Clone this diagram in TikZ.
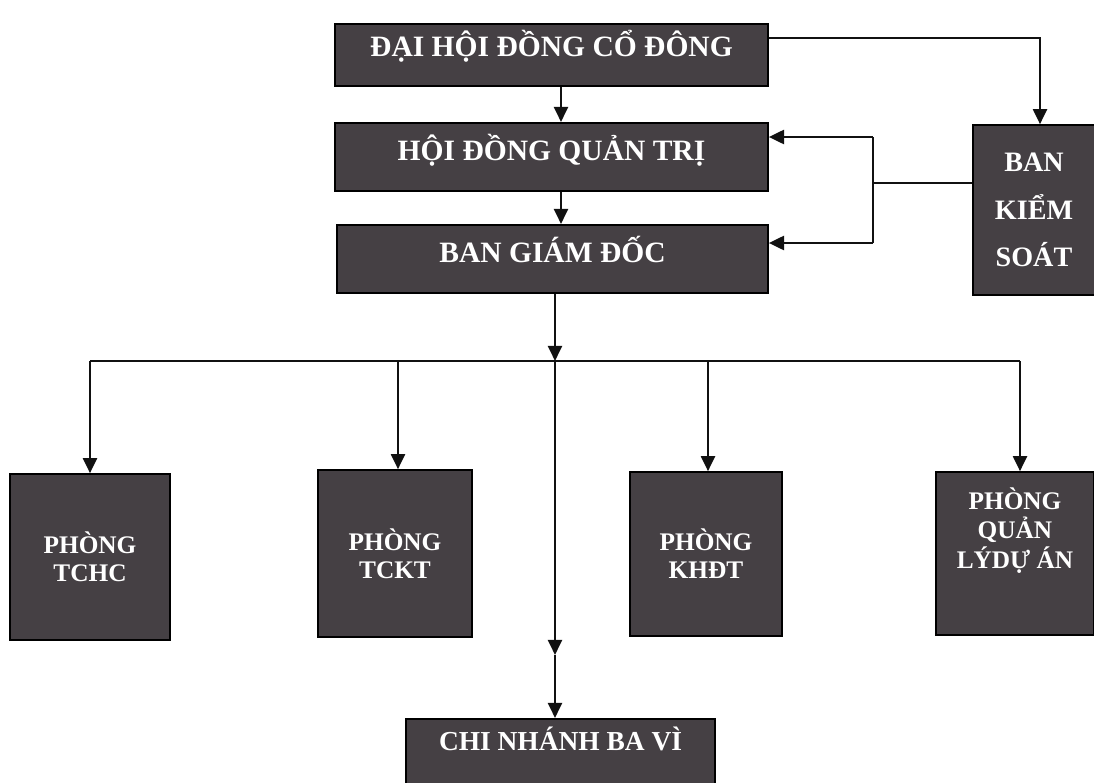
\documentclass[tikz,border=0pt]{standalone}
\usepackage{fontspec}
\setmainfont{Liberation Serif}
\usetikzlibrary{arrows.meta, positioning, calc}
\definecolor{cbox}{HTML}{454044}
\definecolor{cline}{HTML}{111111}
\tikzset{
  every picture/.style={line width=1.8pt},
  box/.style={draw=black, fill=cbox, text=white, align=center, inner sep=0pt, line width=1.1pt},
  bigtext/.style={font=\bfseries\fontsize{21}{24}\selectfont},
  smalltext/.style={font=\bfseries\fontsize{18}{20}\selectfont},
  arrow/.style={-{Triangle[length=3.8mm, width=3.5mm]}, draw=cline},
  link/.style={draw=cline},
}

\begin{document}
\begin{tikzpicture}[x=0.025cm, y=-0.025cm]
  \useasboundingbox (0,0) rectangle (1094,783);
  % upper levels
  \node[box, bigtext, minimum width=10.825cm, text height=0.825cm, text depth=0.725cm, anchor=north] (dh) at (551.5,23) {ĐẠI HỘI ĐỒNG CỔ ĐÔNG};
  \node[box, bigtext, minimum width=10.825cm, text height=0.95cm, text depth=0.75cm, anchor=north] (hd) at (551.5,122) {HỘI ĐỒNG QUẢN TRỊ};
  \node[box, bigtext, minimum width=10.775cm, text height=0.95cm, text depth=0.75cm, anchor=north] (bgd) at (552.5,224) {BAN GIÁM ĐỐC};
  \node[box, font=\bfseries\fontsize{20}{34}\selectfont, minimum width=3.05cm, minimum height=4.25cm] (bks) at (1034,210) {BAN\\KIỂM\\SOÁT};
  % departments
  \node[box, smalltext, minimum width=4cm, minimum height=4.15cm] (tchc) at (90,557) {PHÒNG\\TCHC};
  \node[box, smalltext, minimum width=3.85cm, minimum height=4.175cm] (tckt) at (395,553.5) {PHÒNG\\TCKT};
  \node[box, smalltext, minimum width=3.8cm, minimum height=4.1cm] (khdt) at (706,554) {PHÒNG\\KHĐT};
  \node[box, minimum width=3.95cm, minimum height=4.075cm] (qlda) at (1015,553.5) {};
  \node[text=white, align=center, font=\bfseries\fontsize{18}{21}\selectfont] (qlda-t) at ([yshift=0.575cm]qlda.center) {PHÒNG\\QUẢN\\LÝDỰ ÁN};
  \node[box, font=\bfseries\fontsize{19.5}{22}\selectfont, minimum width=7.725cm, text height=0.8cm, text depth=1.6cm, anchor=north] (cn) at (560.5,718) {CHI NHÁNH BA VÌ};

  % top connectors
  \coordinate (k) at (1040,38);
  \draw[arrow] (dh.east |- k) -- (k) -- (k |- bks.north);
  \coordinate (m) at (561,0);
  \draw[arrow] (dh.south -| m) -- (hd.north -| m);
  \draw[arrow] (hd.south -| m) -- (bgd.north -| m);
  % control board back to the boards
  \coordinate (j) at (873,183);
  \coordinate (j1) at (873,137);
  \coordinate (j2) at (873,243);
  \draw[link] (bks.west |- j) -- (j);
  \draw[link] (j1) -- (j2);
  \draw[arrow] (j1) -- (j1 -| hd.east);
  \draw[arrow] (j2) -- (j2 -| bgd.east);

  % bus to the departments
  \coordinate (b) at (555,361);
  \draw[arrow] (bgd.south -| b) -- (b);
  \draw[link] (90,361) coordinate (bl) -- (1020,361) coordinate (br);
  \foreach \n/\x in {tchc/90, tckt/398, khdt/708, qlda/1020}
    \draw[arrow] (\x,361) coordinate (d) -- (d |- \n.north);
  \coordinate (c2) at (555,655);
  \draw[arrow] (b) -- (c2);
  \draw[arrow] (c2) -- (c2 |- cn.north);
\end{tikzpicture}
\end{document}
